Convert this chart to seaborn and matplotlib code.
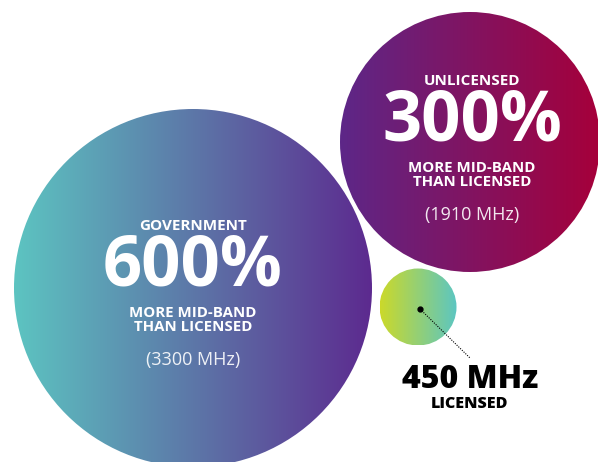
import numpy as np
import seaborn as sns
import matplotlib.pyplot as plt
from matplotlib.patches import Circle
from matplotlib.colors import LinearSegmentedColormap

# Data
bands = ["GOVERNMENT", "UNLICENSED", "LICENSED"]
mhz = [3300, 1910, 450]
pct_more = [600, 300, None]

# Layout (pixel space, y down)
centers = [(193, 288), (470, 142), (418, 307)]
radii = [179, 130, 38.5]
gradients = [("#5cc4c1", "#5d2a8f"), ("#5d2788", "#a6003a"), ("#cbd92a", "#5cc6c2")]

sns.set_theme(style="white")
plt.rcParams["font.family"] = ["Open Sans", "DejaVu Sans"]

fig = plt.figure(figsize=(5.98, 4.62), dpi=100)
ax = fig.add_axes([0, 0, 1, 1])
ax.set_xlim(0, 598)
ax.set_ylim(462, 0)
ax.set_aspect("equal")
ax.axis("off")

ramp = np.linspace(0, 1, 256).reshape(1, -1)
for (cx, cy), r, (c0, c1) in zip(centers, radii, gradients):
    cmap = LinearSegmentedColormap.from_list("g", sns.blend_palette([c0, c1], 16))
    im = ax.imshow(ramp, cmap=cmap, extent=(cx - r, cx + r, cy + r, cy - r),
                   aspect="auto", interpolation="bilinear", zorder=1)
    clip = Circle((cx, cy), r, transform=ax.transData)
    im.set_clip_path(clip)

# text inside the two big circles
for i in range(2):
    cx, cy = centers[i]
    tx = cx + (0 if i == 0 else 2)
    top = 227 if i == 0 else 82
    ax.text(tx, top - 1, bands[i], color="white", fontsize=11, fontweight="bold",
            ha="center", va="center", zorder=3)
    ax.text(tx, top + 40.5, f"{pct_more[i]}%", color="white", fontsize=49.5,
            fontweight="bold", ha="center", va="center", zorder=3)
    ax.text(tx, top + 93, "MORE MID-BAND\nTHAN LICENSED", color="white",
            fontsize=10.8, fontweight="bold", ha="center", va="center",
            linespacing=1.05, zorder=3)
    ax.text(tx, top + 133, f"({mhz[i]} MHz)", color="white", alpha=0.9,
            fontsize=13, ha="center", va="center", zorder=3)

# small circle annotation
ax.plot([420, 470], [309, 358], color="black", lw=0.8, ls=(0, (1, 1.2)), zorder=3)
ax.plot([420], [309], marker="o", color="black", ms=3.5, zorder=4)
ax.text(470, 380, f"{mhz[2]} MHz", color="black", fontsize=23, fontweight="heavy",
        ha="center", va="center", zorder=3)
ax.text(470, 404, bands[2], color="black", fontsize=11.5, fontweight="heavy",
        ha="center", va="center", zorder=3)

fig.savefig("out.png", dpi=100, facecolor="white")
